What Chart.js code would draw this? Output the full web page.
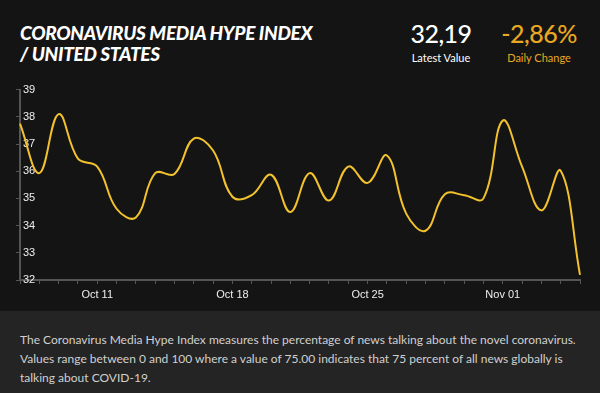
<!DOCTYPE html>
<html>
<head>
<meta charset="utf-8">
<script src="https://cdn.jsdelivr.net/npm/chart.js@4.4.0/dist/chart.umd.min.js"></script>
<style>
  html, body { margin:0; padding:0; width:600px; height:393px; overflow:hidden; background:#141414; }
  #title { position:absolute; left:20px; top:22px; color:#fff; font-family:Lato, sans-serif; font-weight:900; font-style:italic; font-size:19px; line-height:21px; letter-spacing:-0.3px; white-space:nowrap; }
  .stat { position:absolute; top:18px; text-align:center; font-family:Lato, sans-serif; }
  .stat .big { font-size:25px; font-weight:500; line-height:30px; letter-spacing:-0.5px; }
  .stat .small { font-size:11px; line-height:14px; margin-top:3px; }
  #latest { left:404px; width:74px; color:#fff; }
  #change { left:490px; width:98px; color:#e8a823; }
  #chartbox { position:absolute; left:0; top:80px; width:600px; height:225px; }
  #desc { position:absolute; left:0; top:311px; width:600px; height:82px; background:#242424; }
  #desc p { margin:0; position:absolute; left:20px; top:19px; width:570px; color:#d0d0d0; font-family:Lato, sans-serif; font-size:12px; line-height:19px; }
</style>
</head>
<body>
<div id="title">CORONAVIRUS MEDIA HYPE INDEX<br>/ UNITED STATES</div>
<div class="stat" id="latest"><div class="big">32,19</div><div class="small">Latest Value</div></div>
<div class="stat" id="change"><div class="big">-2,86%</div><div class="small">Daily Change</div></div>
<div id="chartbox"><canvas id="c"></canvas></div>
<div id="desc"><p>The Coronavirus Media Hype Index measures the percentage of news talking about the novel coronavirus. Values range between 0 and 100 where a value of 75.00 indicates that 75 percent of all news globally is talking about COVID-19.</p></div>
<script>
const dates = ['Oct 07','Oct 08','Oct 09','Oct 10','Oct 11','Oct 12','Oct 13','Oct 14','Oct 15','Oct 16',
  'Oct 17','Oct 18','Oct 19','Oct 20','Oct 21','Oct 22','Oct 23','Oct 24','Oct 25','Oct 26',
  'Oct 27','Oct 28','Oct 29','Oct 30','Oct 31','Nov 01','Nov 02','Nov 03','Nov 04','Nov 05'];
const hypeIndex = [37.75, 35.93, 38.10, 36.46, 36.17, 34.62, 34.30, 35.93, 35.90, 37.20,
  36.76, 35.06, 35.12, 35.87, 34.50, 35.93, 34.92, 36.17, 35.57, 36.58,
  34.44, 33.81, 35.15, 35.12, 35.00, 37.86, 36.17, 34.56, 36.02, 32.19];
const shownTickLabels = ['Oct 11','Oct 18','Oct 25','Nov 01'];
const yTicks = [32, 33, 34, 35, 36, 37, 38, 39];

new Chart(document.getElementById('c'), {
  type: 'line',
  data: {
    labels: dates,
    datasets: [{
      data: hypeIndex,
      borderColor: '#f2c12e',
      borderWidth: 2,
      pointRadius: 0,
      tension: 0.4,
      fill: false
    }]
  },
  options: {
    responsive: true,
    maintainAspectRatio: false,
    animation: false,
    layout: { padding: { top: 7, right: 20, left: 0, bottom: 0 } },
    plugins: { legend: { display: false }, tooltip: { enabled: false } },
    scales: {
      x: {
        grid: { display: true, drawOnChartArea: false, color: '#555', tickLength: 4, tickColor: '#555' },
        border: { color: '#555', width: 2 },
        ticks: {
          autoSkip: false, maxRotation: 0, color: '#eee', padding: 4,
          font: { family: 'Liberation Sans, Arial, sans-serif', size: 11 },
          callback: function(v, i) { const l = this.getLabelForValue(v); return shownTickLabels.includes(l) ? l : ''; }
        },
        afterFit: s => { s.height = 25; }
      },
      y: {
        min: yTicks[0], max: yTicks[yTicks.length - 1],
        afterBuildTicks: s => { s.ticks = yTicks.map(v => ({ value: v })); },
        grid: { display: true, drawOnChartArea: false, color: '#555', tickLength: 4, tickColor: '#555' },
        border: { color: '#555', width: 2 },
        ticks: {
          mirror: true, padding: 3, color: '#eee',
          font: { family: 'Liberation Sans, Arial, sans-serif', size: 11 }
        },
        afterFit: s => { s.width = 20; }
      }
    }
  }
});
</script>
</body>
</html>
